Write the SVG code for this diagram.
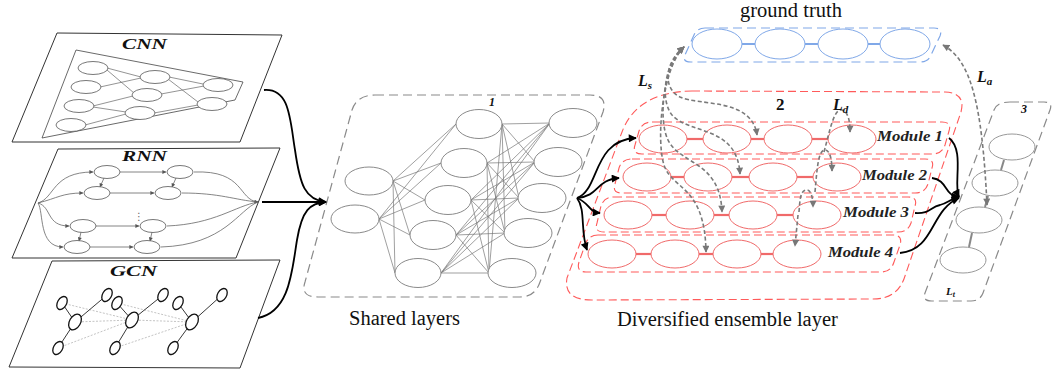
<svg xmlns="http://www.w3.org/2000/svg" width="1053" height="377" viewBox="0 0 1053 377">
<style>
.txt{font-family:"Liberation Serif",serif;font-size:20.5px;fill:#111}
.lab{font-family:"Liberation Serif",serif;font-weight:bold;font-style:italic;fill:#111}
.mod{font-family:"Liberation Serif",serif;font-style:italic;font-weight:bold;font-size:14px;fill:#222}
.panel{fill:#fff;stroke:#333;stroke-width:1}
.thin{stroke:#666;stroke-width:0.7;fill:none}
.cn{fill:#fff;stroke:#555;stroke-width:0.8}
.rn{fill:#fff;stroke:#555;stroke-width:0.8}
.rl{stroke:#666;stroke-width:0.8;fill:none}
.gn{fill:#fff;stroke:#111;stroke-width:1.3}
.gl{stroke:#222;stroke-width:0.9}
.gd{stroke:#aaa;stroke-width:0.7;stroke-dasharray:2 1.5}
.sh{fill:#fff;stroke:#8a8a8a;stroke-width:1}
.shl{stroke:#777;stroke-width:0.7;fill:none}
.gbox{fill:none;stroke:#8a8a8a;stroke-width:1.2;stroke-dasharray:9 5}
.rbox{fill:none;stroke:#ff5a5a;stroke-width:1.1;stroke-dasharray:8 4}
.re{fill:none;stroke:#f06a6a;stroke-width:1}
.rc{stroke:#f06a6a;stroke-width:2.2}
.bbox{fill:none;stroke:#80a8e8;stroke-width:1.2;stroke-dasharray:9 5}
.be{fill:none;stroke:#80a8e8;stroke-width:1}
.bc{stroke:#80a8e8;stroke-width:2}
.blk{fill:none;stroke:#000;stroke-width:1.8}
.gda{fill:none;stroke:#7a7a7a;stroke-width:1.6;stroke-dasharray:4 2.5}
.c3{fill:#fff;stroke:#999;stroke-width:1}
.c3l{stroke:#888;stroke-width:2}
</style>
<defs>
<marker id="ab" viewBox="0 0 10 10" refX="9" refY="5" markerWidth="9" markerHeight="8" markerUnits="userSpaceOnUse" orient="auto"><path d="M0,0 L10,5 L0,10 z" fill="#000"/></marker>
<marker id="ag" viewBox="0 0 10 10" refX="9" refY="5" markerWidth="8" markerHeight="7" markerUnits="userSpaceOnUse" orient="auto-start-reverse"><path d="M0,0 L10,5 L0,10 z" fill="#777"/></marker>
<marker id="as" viewBox="0 0 10 10" refX="9" refY="5" markerWidth="5" markerHeight="4" markerUnits="userSpaceOnUse" orient="auto"><path d="M0,0 L10,5 L0,10 z" fill="#555"/></marker>
</defs>

<!-- CNN panel -->
<g id="cnn">
<polygon class="panel" points="57,33 282,35 240,142 12,142"/>
<text class="lab" x="122" y="49" font-size="14" textLength="45" lengthAdjust="spacingAndGlyphs">CNN</text>
<polygon points="76,50 243,82 235,100 42,138" fill="none" stroke="#444" stroke-width="0.8"/>
<g class="thin">
<line x1="107" y1="68" x2="141" y2="77"/><line x1="107" y1="70" x2="134" y2="93"/>
<line x1="100" y1="87" x2="141" y2="78"/><line x1="93" y1="106" x2="133" y2="96"/>
<line x1="93" y1="107" x2="126" y2="112"/><line x1="85" y1="125" x2="126" y2="114"/>
<line x1="169" y1="77" x2="203" y2="84"/><line x1="168" y1="79" x2="198" y2="102"/>
<line x1="161" y1="94" x2="204" y2="86"/><line x1="154" y1="113" x2="198" y2="105"/>
</g>
<ellipse class="cn" cx="93" cy="68" rx="15" ry="6.5"/><ellipse class="cn" cx="86" cy="87" rx="15" ry="6.5"/>
<ellipse class="cn" cx="79" cy="106" rx="15" ry="6.5"/><ellipse class="cn" cx="71" cy="125" rx="15" ry="6.5"/>
<ellipse class="cn" cx="155" cy="77" rx="15" ry="6.5"/><ellipse class="cn" cx="147" cy="95" rx="15" ry="6.5"/>
<ellipse class="cn" cx="140" cy="113" rx="15" ry="6.5"/>
<ellipse class="cn" cx="218" cy="85" rx="15" ry="6.5"/><ellipse class="cn" cx="212" cy="104" rx="15" ry="6.5"/>
</g>

<!-- RNN panel -->
<g id="rnn">
<polygon class="panel" points="58,149 280,148 236,258 12,258"/>
<text class="lab" x="122" y="161" font-size="14" textLength="45" lengthAdjust="spacingAndGlyphs">RNN</text>
<g class="rl">
<path d="M38,203 C55,198 52,172 93,172" marker-end="url(#as)"/>
<path d="M38,203 C58,198 62,193 83,193" marker-end="url(#as)"/>
<path d="M38,203 C52,207 46,226 69,226" marker-end="url(#as)"/>
<path d="M38,203 C44,212 38,247 63,247" marker-end="url(#as)"/>
<path d="M194,172 C245,170 238,200 258,202" marker-end="url(#as)"/>
<path d="M182,193 C220,193 235,200 258,202"/>
<path d="M167,226 C215,224 235,206 258,202"/>
<path d="M161,247 C225,245 238,210 258,202"/>
<line x1="120" y1="172" x2="166" y2="172" marker-end="url(#as)"/>
<line x1="110" y1="193" x2="154" y2="193" marker-end="url(#as)"/>
<line x1="96" y1="226" x2="139" y2="226" marker-end="url(#as)"/>
<line x1="90" y1="247" x2="133" y2="247" marker-end="url(#as)"/>
<line x1="104" y1="178" x2="100" y2="187" marker-end="url(#as)"/>
<line x1="176" y1="178" x2="172" y2="187" marker-end="url(#as)"/>
<line x1="81" y1="232" x2="79" y2="241" marker-end="url(#as)"/>
<line x1="152" y1="232" x2="150" y2="241" marker-end="url(#as)"/>
</g>
<ellipse class="rn" cx="107" cy="172" rx="13" ry="6.5"/><ellipse class="rn" cx="180" cy="172" rx="13" ry="6.5"/>
<ellipse class="rn" cx="97" cy="193" rx="13" ry="6.5"/><ellipse class="rn" cx="168" cy="193" rx="13" ry="6.5"/>
<ellipse class="rn" cx="83" cy="226" rx="13" ry="6.5"/><ellipse class="rn" cx="153" cy="226" rx="13" ry="6.5"/>
<ellipse class="rn" cx="77" cy="247" rx="13" ry="6.5"/><ellipse class="rn" cx="147" cy="247" rx="13" ry="6.5"/>
<text x="134" y="220" font-family="DejaVu Sans,sans-serif" font-size="10" fill="#666">⋮</text>
</g>

<!-- GCN panel -->
<g id="gcn">
<polygon class="panel" points="52,261 280,260 240,368 9,367"/>
<text class="lab" x="110" y="276" font-size="14" textLength="47" lengthAdjust="spacingAndGlyphs">GCN</text>
<g class="gd">
<line x1="62" y1="303" x2="132" y2="320"/><line x1="75" y1="322" x2="132" y2="320"/><line x1="58" y1="348" x2="132" y2="320"/>
<line x1="117" y1="303" x2="192" y2="322"/><line x1="132" y1="320" x2="192" y2="322"/><line x1="115" y1="348" x2="192" y2="322"/>
</g>
<g class="gl">
<line x1="62" y1="303" x2="75" y2="322"/><line x1="75" y1="322" x2="107" y2="295"/><line x1="75" y1="322" x2="58" y2="348"/>
<line x1="117" y1="303" x2="132" y2="320"/><line x1="132" y1="320" x2="163" y2="295"/><line x1="132" y1="320" x2="115" y2="348"/>
<line x1="178" y1="303" x2="192" y2="322"/><line x1="192" y1="322" x2="222" y2="295"/><line x1="192" y1="322" x2="173" y2="348"/>
</g>
<g class="gn">
<ellipse cx="62" cy="303" rx="4.5" ry="7" transform="rotate(30 62 303)"/>
<ellipse cx="75" cy="322" rx="5.5" ry="8.5" transform="rotate(30 75 322)"/>
<ellipse cx="107" cy="295" rx="4.5" ry="7" transform="rotate(30 107 295)"/>
<ellipse cx="58" cy="348" rx="4.5" ry="7" transform="rotate(30 58 348)"/>
<ellipse cx="117" cy="303" rx="4.5" ry="7" transform="rotate(30 117 303)"/>
<ellipse cx="132" cy="320" rx="5.5" ry="8.5" transform="rotate(30 132 320)"/>
<ellipse cx="163" cy="295" rx="4.5" ry="7" transform="rotate(30 163 295)"/>
<ellipse cx="115" cy="348" rx="4.5" ry="7" transform="rotate(30 115 348)"/>
<ellipse cx="178" cy="303" rx="4.5" ry="7" transform="rotate(30 178 303)"/>
<ellipse cx="192" cy="322" rx="5.5" ry="8.5" transform="rotate(30 192 322)"/>
<ellipse cx="222" cy="295" rx="4.5" ry="7" transform="rotate(30 222 295)"/>
<ellipse cx="173" cy="348" rx="4.5" ry="7" transform="rotate(30 173 348)"/>
</g>
</g>

<!-- Shared layers -->
<g id="shared">
<path class="gbox" d="M375,95 L590,95 Q608,95 603,112 L540,282 Q535,297 520,297 L318,297 Q300,297 305,282 L352,110 Q357,95 375,95 Z"/>
<text class="lab" x="489" y="106" font-size="12">1</text>
<g class="shl">
<path d="M393,181 L456,124 M393,181 L441,163 M393,181 L425,200 M393,181 L410,235 M393,181 L395,273
M379,219 L456,124 M379,219 L441,163 M379,219 L425,200 M379,219 L410,235 M379,219 L395,273
M502,124 L550,123 M502,124 L535,162 M502,124 L519,198 M502,124 L505,233 M502,124 L489,273
M487,163 L550,123 M487,163 L535,162 M487,163 L519,198 M487,163 L505,233 M487,163 L489,273
M471,200 L550,123 M471,200 L535,162 M471,200 L519,198 M471,200 L505,233 M471,200 L489,273
M456,235 L550,123 M456,235 L535,162 M456,235 L519,198 M456,235 L505,233 M456,235 L489,273
M441,273 L550,123 M441,273 L535,162 M441,273 L519,198 M441,273 L505,233 M441,273 L489,273"/>
</g>
<ellipse class="sh" cx="369" cy="181" rx="24" ry="14"/>
<ellipse class="sh" cx="355" cy="219" rx="24" ry="14"/>
<ellipse class="sh" cx="479" cy="124" rx="23" ry="14.5"/>
<ellipse class="sh" cx="464" cy="163" rx="23" ry="14.5"/>
<ellipse class="sh" cx="448" cy="200" rx="23" ry="14.5"/>
<ellipse class="sh" cx="433" cy="235" rx="23" ry="14.5"/>
<ellipse class="sh" cx="418" cy="273" rx="23" ry="14.5"/>
<ellipse class="sh" cx="573" cy="123" rx="24" ry="14.5"/>
<ellipse class="sh" cx="558" cy="162" rx="24" ry="14.5"/>
<ellipse class="sh" cx="542" cy="198" rx="24" ry="14.5"/>
<ellipse class="sh" cx="528" cy="233" rx="24" ry="14.5"/>
<ellipse class="sh" cx="512" cy="273" rx="24" ry="14.5"/>
<text class="txt" x="349" y="325">Shared layers</text>
</g>

<!-- Ground truth -->
<g id="ground-truth">
<text class="txt" x="740" y="17">ground truth</text>
<path class="bbox" d="M705,28 L934,28 Q943,28 940,36 L931,55 Q928,62 920,62 L691,62 Q682,62 685,55 L694,35 Q697,28 705,28 Z"/>
<line class="bc" x1="742" y1="44" x2="755" y2="44"/><line class="bc" x1="805" y1="44" x2="818" y2="44"/><line class="bc" x1="868" y1="44" x2="880" y2="44"/>
<ellipse class="be" cx="717" cy="44" rx="25" ry="15"/><ellipse class="be" cx="780" cy="44" rx="25" ry="15"/>
<ellipse class="be" cx="843" cy="44" rx="25" ry="15"/><ellipse class="be" cx="905" cy="44" rx="25" ry="15"/>
</g>

<!-- Diversified ensemble layer -->
<g id="ensemble">
<path class="rbox" d="M692,91 L945,92 Q966,93 961,112 L905,276 Q898,299 873,299 L592,300 Q563,300 567,278 L622,132 Q637,92 692,91 Z"/>
<text x="776" y="110" font-family="Liberation Serif,serif" font-weight="bold" font-size="17" fill="#111">2</text>
<text class="txt" x="617" y="326">Diversified ensemble layer</text>
</g>
<g id="module1">
<path class="rbox" d="M652,122 H942 Q952,122 949,131 L945,145 Q942,154 932,154 H642 Q632,154 635,145 L639,131 Q642,122 652,122 Z"/>
<line class="rc" x1="687" y1="139" x2="703" y2="139"/><line class="rc" x1="751" y1="139" x2="764" y2="139"/><line class="rc" x1="812" y1="139" x2="828" y2="139"/>
<ellipse class="re" cx="663" cy="139" rx="24" ry="14"/><ellipse class="re" cx="727" cy="139" rx="24" ry="14"/>
<ellipse class="re" cx="788" cy="139" rx="24" ry="14"/><ellipse class="re" cx="852" cy="139" rx="24" ry="14"/>
<text class="mod" x="877" y="141" textLength="66" lengthAdjust="spacingAndGlyphs">Module 1</text>
</g>
<g id="module2">
<path class="rbox" d="M632,159 H925 Q935,159 932,168 L928,184 Q925,193 915,193 H622 Q612,193 615,184 L619,168 Q622,159 632,159 Z"/>
<line class="rc" x1="671" y1="177" x2="684" y2="177"/><line class="rc" x1="732" y1="177" x2="749" y2="177"/><line class="rc" x1="797" y1="177" x2="813" y2="177"/>
<ellipse class="re" cx="647" cy="177" rx="24" ry="14"/><ellipse class="re" cx="708" cy="177" rx="24" ry="14"/>
<ellipse class="re" cx="773" cy="177" rx="24" ry="14"/><ellipse class="re" cx="837" cy="177" rx="24" ry="14"/>
<text class="mod" x="862" y="180" textLength="65" lengthAdjust="spacingAndGlyphs">Module 2</text>
</g>
<g id="module3">
<path class="rbox" d="M614,197 H908 Q918,197 915,206 L911,223 Q908,232 898,232 H604 Q594,232 597,223 L601,206 Q604,197 614,197 Z"/>
<line class="rc" x1="652" y1="215" x2="666" y2="215"/><line class="rc" x1="714" y1="215" x2="729" y2="215"/><line class="rc" x1="777" y1="215" x2="793" y2="215"/>
<ellipse class="re" cx="628" cy="215" rx="24" ry="14"/><ellipse class="re" cx="690" cy="215" rx="24" ry="14"/>
<ellipse class="re" cx="753" cy="215" rx="24" ry="14"/><ellipse class="re" cx="817" cy="215" rx="24" ry="14"/>
<text class="mod" x="843" y="217" textLength="66" lengthAdjust="spacingAndGlyphs">Module 3</text>
</g>
<g id="module4">
<path class="rbox" d="M598,235 H893 Q903,235 900,245 L894,262 Q891,272 881,272 H586 Q576,272 579,262 L585,245 Q588,235 598,235 Z"/>
<line class="rc" x1="636" y1="254" x2="651" y2="254"/><line class="rc" x1="699" y1="254" x2="713" y2="254"/><line class="rc" x1="761" y1="254" x2="773" y2="254"/>
<ellipse class="re" cx="612" cy="254" rx="24" ry="14"/><ellipse class="re" cx="675" cy="254" rx="24" ry="14"/>
<ellipse class="re" cx="737" cy="254" rx="24" ry="14"/><ellipse class="re" cx="797" cy="254" rx="24" ry="14"/>
<text class="mod" x="828" y="257" textLength="65" lengthAdjust="spacingAndGlyphs">Module 4</text>
</g>

<!-- Output column 3 -->
<g id="output">
<path class="gbox" d="M1010,102 L1044,102 Q1053,102 1050,110 L983,293 Q980,301 971,301 L932,301 Q922,301 925,293 L994,110 Q997,102 1010,102 Z"/>
<text class="lab" x="1021" y="113" font-size="12">3</text>
<line class="c3l" x1="1004" y1="160" x2="1001" y2="170"/><line class="c3l" x1="988" y1="196" x2="985" y2="207"/><line class="c3l" x1="972" y1="233" x2="969" y2="247"/>
<ellipse class="c3" cx="1012" cy="147" rx="23" ry="13"/><ellipse class="c3" cx="995" cy="183" rx="23" ry="13"/>
<ellipse class="c3" cx="979" cy="220" rx="23" ry="13"/><ellipse class="c3" cx="963" cy="260" rx="23" ry="13"/>
<text class="lab" x="946" y="295" font-size="11">L<tspan font-size="8" dy="2">t</tspan></text>
</g>

<!-- Connectors -->
<g id="connectors">
<path class="blk" d="M264,90 C290,88 290,120 295,150 C300,185 305,200 326,202" marker-end="url(#ab)"/>
<path class="blk" d="M262,202 L326,202" marker-end="url(#ab)"/>
<path class="blk" d="M258,318 C290,312 292,270 297,240 C302,210 310,203 326,202" marker-end="url(#ab)"/>
<path class="blk" d="M577,198 C600,190 592,140 636,138" marker-end="url(#ab)"/>
<path class="blk" d="M577,198 C600,196 595,180 619,178" marker-end="url(#ab)"/>
<path class="blk" d="M577,198 C590,203 588,212 600,213" marker-end="url(#ab)"/>
<path class="blk" d="M577,198 C586,210 580,230 587,250" marker-end="url(#ab)"/>
<path class="blk" d="M949,138 C965,150 953,185 959,197" marker-end="url(#ab)"/>
<path class="blk" d="M932,178 C948,180 944,196 959,197" marker-end="url(#ab)"/>
<path class="blk" d="M915,213 C930,214 930,207 940,205 C948,203 950,199 959,197" marker-end="url(#ab)"/>
<path class="blk" d="M900,253 C935,250 930,210 959,198" marker-end="url(#ab)"/>
<path class="gda" d="M684,47 C665,62 662,88 680,97 C700,106 752,98 757,135" marker-start="url(#ag)" marker-end="url(#ag)"/>
<path class="gda" d="M684,47 C664,64 660,100 672,115 C690,135 737,125 740,174" marker-start="url(#ag)" marker-end="url(#ag)"/>
<path class="gda" d="M684,47 C663,66 658,120 668,140 C680,165 720,160 722,212" marker-start="url(#ag)" marker-end="url(#ag)"/>
<path class="gda" d="M684,47 C662,68 656,140 664,165 C672,190 705,185 706,252" marker-start="url(#ag)" marker-end="url(#ag)"/>
<path class="gda" d="M824,152 C830,130 834,108 842,110 C848,112 850,120 850,132" marker-end="url(#ag)"/>
<path class="gda" d="M815,192 C817,170 818,150 825,150 C830,150 832,160 832,171" marker-end="url(#ag)"/>
<path class="gda" d="M799,212 C800,200 800,190 807,190 C811,190 813,198 813,207" marker-end="url(#ag)"/>
<path class="gda" d="M798,215 L795,246" marker-end="url(#ag)"/>
<path class="gda" d="M943,45 C970,60 982,100 987,205" marker-start="url(#ag)" marker-end="url(#ag)"/>
<text class="lab" x="638" y="86" font-size="16">L<tspan font-size="11" dy="3">s</tspan></text>
<text class="lab" x="833" y="110" font-size="16">L<tspan font-size="11" dy="3">d</tspan></text>
<text class="lab" x="977" y="82" font-size="16">L<tspan font-size="11" dy="3">a</tspan></text>
</g>
</svg>
